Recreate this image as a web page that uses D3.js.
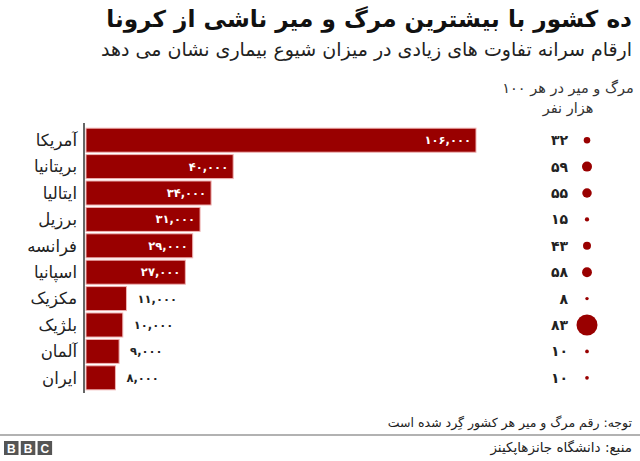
<!DOCTYPE html>
<html>
<head>
<meta charset="utf-8">
<script src="https://cdn.jsdelivr.net/npm/d3@7"></script>
<style>
  html, body { margin: 0; padding: 0; background: #fff; }
  svg { display: block; font-family: 'DejaVu Sans', sans-serif; }
</style>
</head>
<body>
<div id="chart"></div>
<script>
const countries = ['آمریکا', 'بریتانیا', 'ایتالیا', 'برزیل', 'فرانسه', 'اسپانیا', 'مکزیک', 'بلژیک', 'آلمان', 'ایران']
const deaths = [106000, 40000, 34000, 31000, 29000, 27000, 11000, 10000, 9000, 8000]
const per100k = [32, 59, 55, 15, 43, 58, 8, 83, 10, 10]

const title = 'ده کشور با بیشترین مرگ و میر ناشی از کرونا'
const subtitle = 'ارقام سرانه تفاوت های زیادی در میزان شیوع بیماری نشان می دهد'
const colHeader = ['مرگ و میر در هر ۱۰۰', 'هزار نفر']
const note = 'توجه: رقم مرگ و میر هر کشور گِرد شده است'
const source = 'منبع: دانشگاه جانزهاپکینز'

const W = 640, H = 461
const RED = '#990000'

const faDigits = '۰۱۲۳۴۵۶۷۸۹'
const toFa = s => String(s).replace(/[0-9]/g, d => faDigits[+d])
const fmt = v => toFa(d3.format(',')(v))

const rows = countries.map((c, i) => ({ name: c, deaths: deaths[i], rate: per100k[i] }))

const svg = d3.select('#chart').append('svg').attr('width', W).attr('height', H)

// header
svg.append('text')
  .attr('x', 632).attr('y', 27)
  .attr('text-anchor', 'end').attr('font-size', 23.2).attr('font-weight', 'bold').attr('fill', '#111')
  .text(title)
svg.append('text')
  .attr('x', 632).attr('y', 56)
  .attr('text-anchor', 'end').attr('font-size', 19).attr('fill', '#222')
  .text(subtitle)

const x = d3.scaleLinear().domain([0, 106000]).range([86, 476])
const y = d3.scaleBand().domain(countries).range([127, 391]).paddingInner(0.09).paddingOuter(0.045)
const r = d3.scaleLinear().domain([0, 59, 83]).range([1.2, 5, 10.5])

// bars
svg.selectAll('.bar')
  .data(rows)
  .join('rect')
  .attr('class', 'bar')
  .attr('x', x(0))
  .attr('y', d => y(d.name))
  .attr('width', d => x(d.deaths) - x(0))
  .attr('height', y.bandwidth())
  .attr('fill', RED)
  .attr('stroke', '#efb3b3')
  .attr('stroke-width', 1)

// left axis line + country names
svg.append('line')
  .attr('x1', 84).attr('x2', 84).attr('y1', 123).attr('y2', 393)
  .attr('stroke', '#333').attr('stroke-width', 1.5)

svg.selectAll('.country')
  .data(rows)
  .join('text')
  .attr('class', 'country')
  .attr('x', 77)
  .attr('y', d => y(d.name) + y.bandwidth() / 2)
  .attr('dy', '0.35em')
  .attr('text-anchor', 'end').attr('font-size', 16.5).attr('fill', '#222')
  .text(d => d.name)

// value labels
svg.selectAll('.val')
  .data(rows)
  .join('text')
  .attr('class', 'val')
  .attr('x', d => d.deaths >= 20000 ? x(d.deaths) - 5 : x(d.deaths) + 11)
  .attr('y', d => y(d.name) + y.bandwidth() / 2)
  .attr('dy', '0.35em')
  .attr('text-anchor', d => d.deaths >= 20000 ? 'end' : 'start')
  .attr('font-size', 11.5).attr('font-weight', 'bold')
  .attr('fill', d => d.deaths >= 20000 ? '#fff' : '#222')
  .text(d => fmt(d.deaths))

// per 100k column
svg.selectAll('.colh')
  .data(colHeader)
  .join('text')
  .attr('class', 'colh')
  .attr('x', 568)
  .attr('y', (d, i) => 93 + i * 20)
  .attr('text-anchor', 'middle').attr('font-size', 14.5).attr('fill', '#333')
  .text(d => d)

svg.selectAll('.rate')
  .data(rows)
  .join('text')
  .attr('class', 'rate')
  .attr('x', 568)
  .attr('y', d => y(d.name) + y.bandwidth() / 2)
  .attr('dy', '0.35em')
  .attr('text-anchor', 'end').attr('font-size', 14).attr('font-weight', 'bold').attr('fill', '#222')
  .text(d => toFa(d.rate))

svg.selectAll('.dot')
  .data(rows)
  .join('circle')
  .attr('class', 'dot')
  .attr('cx', 587)
  .attr('cy', d => y(d.name) + y.bandwidth() / 2)
  .attr('r', d => r(d.rate))
  .attr('fill', RED)

// footer
svg.append('text')
  .attr('x', 632).attr('y', 427)
  .attr('text-anchor', 'end').attr('font-size', 12.5).attr('fill', '#222')
  .text(note)
svg.append('line')
  .attr('x1', 0).attr('x2', W).attr('y1', 435).attr('y2', 435)
  .attr('stroke', '#999').attr('stroke-width', 1.5)
svg.append('text')
  .attr('x', 632).attr('y', 452)
  .attr('text-anchor', 'end').attr('font-size', 13.5).attr('fill', '#222')
  .text(source)

const logo = svg.append('g').attr('transform', 'translate(4,441)')
;['B', 'B', 'C'].forEach((ch, i) => {
  logo.append('rect').attr('x', i * 16.8).attr('y', 0).attr('width', 14.5).attr('height', 14).attr('fill', '#555')
  logo.append('text').attr('x', i * 16.8 + 7.25).attr('y', 11.5)
    .attr('text-anchor', 'middle').attr('font-size', 12).attr('font-weight', 'bold')
    .attr('font-family', 'Arial, Liberation Sans, sans-serif').attr('fill', '#fff')
    .text(ch)
})
</script>
</body>
</html>
